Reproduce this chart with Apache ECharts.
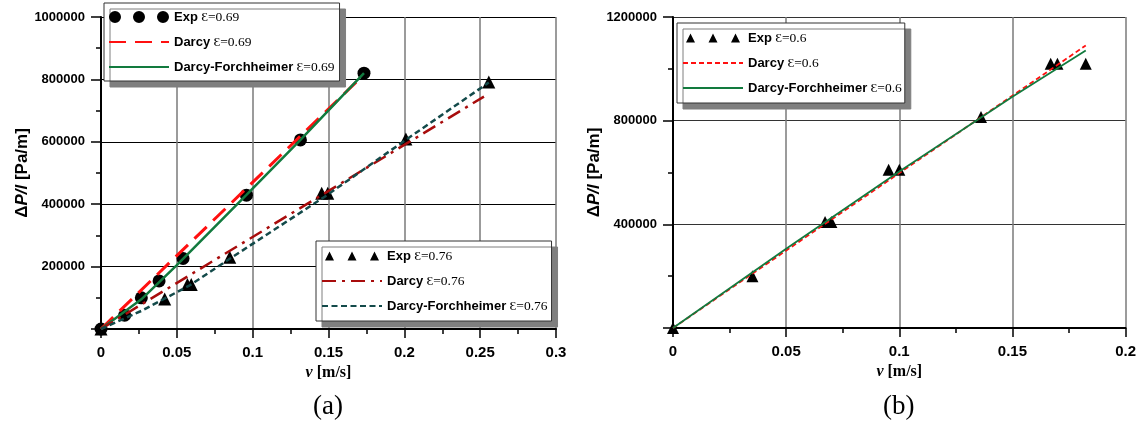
<!DOCTYPE html>
<html><head><meta charset="utf-8">
<script src="https://cdn.jsdelivr.net/npm/echarts@6/dist/echarts.min.js"></script>
<style>html,body{margin:0;padding:0;background:#fff}#c{width:1139px;height:426px}</style>
</head><body><div id="c"></div>
<script>
// ---- data ----
// panel (a): epsilon = 0.69
const vExp069 = [0, 0.0156, 0.0266, 0.0383, 0.0541, 0.0959, 0.1315, 0.1734];
const pExp069 = [0, 44000, 100000, 154000, 226000, 429000, 606000, 820000];
const vDarcy069 = [0, 0.1695];
const pDarcy069 = [0, 797000];
const vDF069 = [0, 0.0266, 0.05, 0.0959, 0.1315, 0.1734];
const pDF069 = [0, 95000, 205000, 430000, 606000, 820000];
// panel (a): epsilon = 0.76
const vExp076 = [0, 0.042, 0.057, 0.0595, 0.0849, 0.1455, 0.1495, 0.201, 0.2557];
const pExp076 = [0, 96000, 143000, 143000, 230000, 435000, 435000, 609000, 792000];
const vDarcy076 = [0, 0.2525];
const pDarcy076 = [0, 745000];
const vDF076 = [0, 0.0266, 0.0585, 0.0849, 0.1475, 0.2, 0.2557];
const pDF076 = [0, 58000, 140000, 225000, 424000, 603000, 790000];
// panel (b): epsilon = 0.6
const vExp06 = [0, 0.0351, 0.0672, 0.0700, 0.0953, 0.1000, 0.1361, 0.1669, 0.1699, 0.1824];
const pExp06 = [0, 200000, 409000, 409000, 611000, 611000, 814000, 1020000, 1020000, 1020000];
const vDarcy06 = [0, 0.1824];
const pDarcy06 = [0, 1090000];
const vDF06 = [0, 0.05, 0.1, 0.15, 0.1824];
const pDF06 = [0, 306000, 604000, 892000, 1071000];

const namesA1 = ['Exp Ɛ=0.69', 'Darcy Ɛ=0.69', 'Darcy-Forchheimer Ɛ=0.69'];
const namesA2 = ['Exp Ɛ=0.76', 'Darcy Ɛ=0.76', 'Darcy-Forchheimer Ɛ=0.76'];
const namesB  = ['Exp Ɛ=0.6', 'Darcy Ɛ=0.6', 'Darcy-Forchheimer Ɛ=0.6'];
const captions = ['(a)', '(b)'];

const zip = (a, b) => a.map((x, i) => [x, b[i]]);

const SANS = '"Liberation Sans", Arial, Helvetica, sans-serif';
const SERIF = '"Liberation Serif", "DejaVu Serif", "Times New Roman", serif';
const GREEN = '#127a3e', RED = '#ff1010', DRED = '#a80c0c', TEAL = '#134a4a';

const circles3 = 'path://M0,6a6,6 0 1,0 12,0a6,6 0 1,0 -12,0Z M24,6a6,6 0 1,0 12,0a6,6 0 1,0 -12,0Z M48,6a6,6 0 1,0 12,0a6,6 0 1,0 -12,0Z';
const tri3 = 'path://M0,10L5,0L10,10Z M25,10L30,0L35,10Z M50,10L55,0L60,10Z';

function legendFmt(name) {
  const k = name.indexOf(' Ɛ');
  return '{b|' + name.slice(0, k) + '} {e|' + name.slice(k + 1) + '}';
}
function legend(names, icon, ih, left, top, pad) {
  return {
    orient: 'vertical', left: left, top: top, padding: pad,
    itemWidth: 60, itemHeight: ih, itemGap: 11,
    backgroundColor: '#fff', borderColor: '#333', borderWidth: 1,
    shadowColor: '#7f7f7f', shadowBlur: 0, shadowOffsetX: 6, shadowOffsetY: 6,
    selectedMode: false,
    data: [
      {name: names[0], icon: icon, itemStyle: {opacity: 1, color: '#000'}},
      {name: names[1], itemStyle: {opacity: 0}},
      {name: names[2], itemStyle: {opacity: 0}}
    ],
    formatter: legendFmt,
    textStyle: {
      color: '#000',
      rich: {
        b: {fontFamily: SANS, fontWeight: 'bold', fontSize: 13, color: '#000'},
        e: {fontFamily: SERIF, fontSize: 13.5, color: '#000'}
      }
    }
  };
}

function xAxis(idx, max) {
  return {
    gridIndex: idx, type: 'value', min: 0, max: max, interval: 0.05,
    name: '{i|v} [m/s]', nameLocation: 'middle', nameGap: 36,
    nameTextStyle: {fontFamily: SERIF, fontWeight: 'bold', fontSize: 16, color: '#000',
      rich: {i: {fontFamily: SERIF, fontWeight: 'bold', fontStyle: 'italic', fontSize: 16, color: '#000'}}},
    axisLine: {show: true, onZero: false, lineStyle: {color: '#000', width: 2}},
    axisTick: {show: true, inside: false, length: 9, lineStyle: {color: '#000', width: 1.5}},
    minorTick: {show: true, splitNumber: 2, length: 5, lineStyle: {color: '#000', width: 1.5}},
    axisLabel: {margin: 16, fontFamily: SANS, fontWeight: 'bold', fontSize: 15, color: '#000',
      formatter: v => String(+v.toFixed(2))},
    splitLine: {show: true, lineStyle: {color: '#7a7a7a', width: 1.5}}
  };
}
function yAxis(idx, max, interval, gap, splitColor) {
  return {
    gridIndex: idx, type: 'value', min: 0, max: max, interval: interval,
    name: 'Δ{i|P/l} [Pa/m]', nameLocation: 'middle', nameGap: gap, nameRotate: 90,
    nameTextStyle: {fontFamily: SANS, fontWeight: 'bold', fontSize: 17, color: '#000',
      rich: {i: {fontFamily: SANS, fontWeight: 'bold', fontStyle: 'italic', fontSize: 17, color: '#000'}}},
    axisLine: {show: true, onZero: false, lineStyle: {color: '#000', width: 2}},
    axisTick: {show: true, inside: false, length: 10, lineStyle: {color: '#000', width: 1.5}},
    minorTick: {show: true, splitNumber: 2, length: 5, lineStyle: {color: '#000', width: 1.5}},
    axisLabel: {margin: 16, fontFamily: SANS, fontWeight: 'bold', fontSize: 13, color: '#000',
      formatter: v => v === 0 ? '' : String(v)},
    splitLine: {show: true, lineStyle: {color: splitColor, width: 1}}
  };
}
function lineSeries(name, xi, data, color, type, width) {
  return {name: name, type: 'line', xAxisIndex: xi, yAxisIndex: xi, data: data,
    symbol: 'none', smooth: false, silent: true, animation: false,
    lineStyle: {color: color, width: width, type: type}, itemStyle: {color: color}, z: 3};
}
function scatter(name, xi, data, sym, size) {
  return {name: name, type: 'scatter', xAxisIndex: xi, yAxisIndex: xi, data: data,
    symbol: sym, symbolSize: size, itemStyle: {color: '#000', opacity: 1}, silent: true, animation: false, z: 2};
}

const chart = echarts.init(document.getElementById('c'), null, {renderer: 'canvas'});
chart.setOption({
  animation: false,
  backgroundColor: '#fff',
  grid: [
    {left: 101, top: 17, width: 455, height: 312, containLabel: false},
    {left: 673, top: 17, width: 456, height: 311, containLabel: false}
  ],
  xAxis: [xAxis(0, 0.3), xAxis(1, 0.2)],
  yAxis: [yAxis(0, 1000000, 200000, 70, '#000'), yAxis(1, 1200000, 400000, 67, '#333')],
  legend: [
    legend(namesA1, circles3, 12, 104, 3, [7, 5, 7, 4]),
    legend(namesA2, tri3, 9, 316, 241, [8, 4, 8, 5]),
    legend(namesB, tri3, 9, 677, 23, [8, 3, 8, 5])
  ],
  graphic: [
    {type: 'text', left: 329 - 16, top: 393, style: {text: captions[0], font: '27px ' + SERIF, fill: '#000'}},
    {type: 'text', left: 900 - 17, top: 393, style: {text: captions[1], font: '27px ' + SERIF, fill: '#000'}}
  ],
  series: [
    scatter(namesA1[0], 0, zip(vExp069, pExp069), 'circle', 13),
    scatter(namesA2[0], 0, zip(vExp076, pExp076), 'triangle', 13),
    lineSeries(namesA1[1], 0, zip(vDarcy069, pDarcy069), RED, [17, 9], 3),
    lineSeries(namesA1[2], 0, zip(vDF069, pDF069), GREEN, 'solid', 2.5),
    lineSeries(namesA2[1], 0, zip(vDarcy076, pDarcy076), DRED, [14, 6, 3, 6], 2.5),
    lineSeries(namesA2[2], 0, zip(vDF076, pDF076), TEAL, [6, 3.5], 2.5),
    scatter(namesB[0], 1, zip(vExp06, pExp06), 'triangle', 12),
    lineSeries(namesB[1], 1, zip(vDarcy06, pDarcy06), RED, [5, 3], 1.8),
    lineSeries(namesB[2], 1, zip(vDF06, pDF06), GREEN, 'solid', 1.8)
  ]
});
</script>
</body></html>
